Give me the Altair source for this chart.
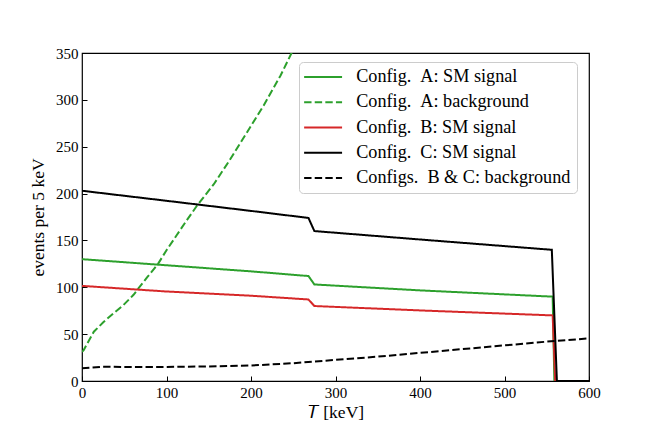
import altair as alt
import pandas as pd

# ---- data ----
NB = "\u00a0"
names = [
    f"Config.{NB}{NB}A: SM signal",
    f"Config.{NB}{NB}A: background",
    f"Config.{NB}{NB}B: SM signal",
    f"Config.{NB}{NB}C: SM signal",
    f"Configs.{NB}{NB}B{NB}&{NB}C: background",
]
colors = ["#2ca02c", "#2ca02c", "#d62728", "#000000", "#000000"]
dashes = [[1, 0], [7.4, 3.2], [1, 0], [1, 0], [7.4, 3.2]]

a_sig_T = [0, 100, 200, 268, 275, 400, 557, 559, 600]
a_sig_v = [130, 123.5, 117, 112, 103, 96.7, 90, 0, 0]

a_bg_T = [0, 2, 14, 25.5, 37, 49, 61, 67, 77, 90, 100, 112, 124, 136, 156, 175, 195, 215, 235, 248, 258]
a_bg_v = [31, 33, 52.6, 63, 72, 81, 92, 99, 110.5, 125, 139.5, 155.5, 171.5, 187, 210, 236, 265, 294, 326, 350, 368]

b_sig_T = [0, 100, 200, 268, 275, 400, 557, 560, 600]
b_sig_v = [101.5, 95.5, 91, 87, 80, 75.3, 70, 0, 0]

c_sig_T = [0, 100, 200, 268, 275, 400, 556, 562, 600]
c_sig_v = [203, 192.3, 181.5, 174, 160, 151, 140, 0, 0]

bc_bg_T = [0, 25, 50, 100, 150, 200, 250, 300, 350, 400, 450, 500, 550, 600]
bc_bg_v = [13.5, 15.3, 15, 15, 15.5, 16.5, 19, 22.5, 26, 30, 34, 38, 42, 45.5]

x_ticks = [0, 100, 200, 300, 400, 500, 600]
y_ticks = [0, 50, 100, 150, 200, 250, 300, 350]

series = [
    (a_sig_T, a_sig_v),
    (a_bg_T, a_bg_v),
    (b_sig_T, b_sig_v),
    (c_sig_T, c_sig_v),
    (bc_bg_T, bc_bg_v),
]
rows = []
for i, (ts, vs) in enumerate(series):
    for j, (t, v) in enumerate(zip(ts, vs)):
        rows.append({"T": t, "v": v, "series": names[i], "j": j})
df = pd.DataFrame(rows)

FONT = "Liberation Serif"

legend_spec = dict(title=None, orient="none", legendX=217, legendY=9)

chart = (
    alt.Chart(df)
    .mark_line(strokeWidth=2, clip=True)
    .encode(
        x=alt.X(
            "T:Q",
            scale=alt.Scale(domain=[0, 600], nice=False, zero=False),
            axis=alt.Axis(
                title="𝑇 [keV]",
                values=x_ticks,
                grid=False,
                domain=False,
                offset=-5,
                tickSize=5,
                tickWidth=1,
                tickColor="black",
                labelPadding=4,
                titlePadding=3,
                labelFlush=False,
            ),
        ),
        y=alt.Y(
            "v:Q",
            scale=alt.Scale(domain=[0, 350], nice=False, zero=False),
            axis=alt.Axis(
                title="events per 5 keV",
                values=y_ticks,
                grid=False,
                domain=False,
                offset=-5,
                tickSize=5,
                tickWidth=1,
                tickColor="black",
                labelPadding=4,
                titlePadding=8,
                labelFlush=False,
            ),
        ),
        color=alt.Color(
            "series:N",
            scale=alt.Scale(domain=names, range=colors),
            legend=alt.Legend(**legend_spec),
        ),
        strokeDash=alt.StrokeDash(
            "series:N",
            scale=alt.Scale(domain=names, range=dashes),
            legend=alt.Legend(**legend_spec),
        ),
        detail="series:N",
        order="j:Q",
    )
    .properties(
        width=507,
        height=328,
        autosize=alt.AutoSizeParams(type="none"),
        padding={"left": 74, "top": 45, "right": 57, "bottom": 47},
    )
    .configure_view(stroke="black", strokeWidth=1.2)
    .configure_axis(
        labelFont=FONT,
        labelFontSize=15,
        labelColor="black",
        titleFont=FONT,
        titleFontSize=17.5,
        titleFontWeight="normal",
        titleColor="black",
    )
    .configure_legend(
        labelFont=FONT,
        labelFontSize=18.2,
        labelColor="black",
        symbolType="M-4,0H4",
        symbolSize=90,
        symbolStrokeWidth=2,
        symbolOffset=9,
        labelOffset=24,
        rowPadding=6.2,
        padding=6,
        fillColor="white",
        strokeColor="#cccccc",
        cornerRadius=4,
        labelLimit=400,
    )
)

chart.save("out.html", embed_options={"renderer": "svg", "actions": False})
